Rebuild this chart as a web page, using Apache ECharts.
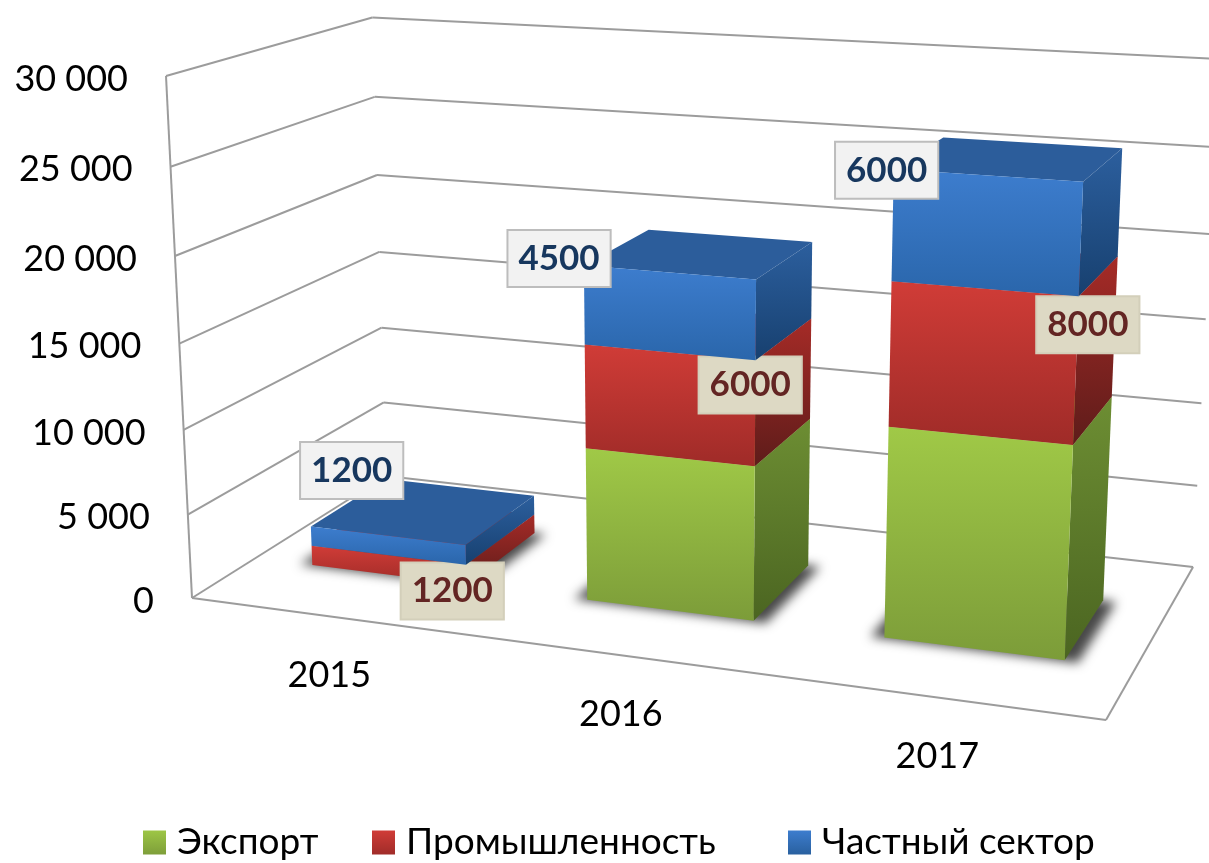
<!DOCTYPE html>
<html>
<head>
<meta charset="utf-8">
<title>chart</title>
<style>
html,body{margin:0;padding:0;background:#fff;}
#main{width:1209px;height:863px;}
</style>
<script src="https://cdn.jsdelivr.net/npm/echarts@6/dist/echarts.min.js"></script>
</head>
<body>
<div id="main"></div>
<script>
// data
var years = ['2015', '2016', '2017'];
var exportValues = [0, 9000, 12000];
var industryValues = [1200, 6000, 8000];
var privateValues = [1200, 4500, 6000];
var yTicks = [0, 5000, 10000, 15000, 20000, 25000, 30000];
var yTickLabels = ['0', '5 000', '10 000', '15 000', '20 000', '25 000', '30 000'];
var seriesNames = ['Экспорт', 'Промышленность', 'Частный сектор'];

// the picture's perspective: where the box corners land and how fast it shrinks
var O = [192, 598], U = [1106, 720], V = [166, 76], D = [386, 476];
var wu = -0.116, wv = -0.05, wd = 0.145;
var barBand = 0.57, depthFront = 0.3, depthBack = 0.7;

var FONT = 'Lato, "Open Sans", sans-serif';
var LINE = '#9c9c9c';

function project(u, v, d) {
    var den = 1 + wu * u + wv * v + wd * d;
    var res = [];
    for (var k = 0; k < 2; k++) {
        res[k] = (O[k] + u * ((1 + wu) * U[k] - O[k]) + v * ((1 + wv) * V[k] - O[k]) + d * ((1 + wd) * D[k] - O[k])) / den;
    }
    return res;
}
// value scale -> fraction of the grid
function toUV(params, api, cat, val) {
    var p = api.coord([cat, val]);
    var cs = params.coordSys;
    return [(p[0] - cs.x) / cs.width, (cs.y + cs.height - p[1]) / cs.height];
}
function grad(c1, c2) {
    return {type: 'linear', x: 0, y: 0, x2: 0, y2: 1, colorStops: [{offset: 0, color: c1}, {offset: 1, color: c2}]};
}
function poly(points, fill) {
    return {type: 'polygon', shape: {points: points}, style: {fill: fill}, silent: true};
}
function line(a, b) {
    return {type: 'line', shape: {x1: a[0], y1: a[1], x2: b[0], y2: b[1]}, style: {stroke: LINE, lineWidth: 2, fill: null}, silent: true};
}

var faceColors = [
    {front: ['#a0c947', '#7c9c39'], side: ['#6d8e33', '#4b6521'], top: '#8fb53e', legend: ['#9dc645', '#7e9e3a']},
    {front: ['#d03c37', '#9f2b28'], side: ['#a62b27', '#5e1c1a'], top: '#a62e2a', legend: ['#d03c37', '#a02c29']},
    {front: ['#3d7dce', '#2a66ab'], side: ['#2c5f9e', '#17406f'], top: '#2c5d9b', legend: ['#3d7dce', '#29609f']}
];
var labelStyles = [
    null,
    {fill: '#632523', bg: '#ddd9c4', border: '#d3cfba'},
    {fill: '#17375e', bg: '#f2f2f2', border: '#bdbdbd'}
];
// labels were dragged by hand in the original, offset from middle of the front face
var labelOffsets = [
    null,
    [[64, 26], [81, -20], [106, -38]],
    [[-36, -75], [-110, -54], [-99, -62]]
];
// the legend gaps in the original are not even, so one legend per series
var legendLeft = [143, 372, 788];

function stackData(values, lower) {
    return values.map(function (v, i) {
        return [i, lower[i], lower[i] + v, v];
    });
}
var base0 = [0, 0, 0];
var base1 = exportValues.slice();
var base2 = exportValues.map(function (v, i) { return v + industryValues[i]; });

function barRender(seriesIndex) {
    return function (params, api) {
        var cat = api.value(0), lo = api.value(1), hi = api.value(2), val = api.value(3);
        if (!val) return null;
        var a = toUV(params, api, cat, lo);
        var b = toUV(params, api, cat, hi);
        var halfW = api.size([1, 0])[0] * barBand / 2 / params.coordSys.width;
        var u0 = a[0] - halfW, u1 = a[0] + halfW;
        var col = faceColors[seriesIndex];
        var children = [
            poly([project(u0, b[1], depthBack), project(u1, b[1], depthBack), project(u1, b[1], depthFront), project(u0, b[1], depthFront)], col.top),
            poly([project(u1, b[1], depthFront), project(u1, b[1], depthBack), project(u1, a[1], depthBack), project(u1, a[1], depthFront)], grad(col.side[0], col.side[1])),
            poly([project(u0, b[1], depthFront), project(u1, b[1], depthFront), project(u1, a[1], depthFront), project(u0, a[1], depthFront)], grad(col.front[0], col.front[1]))
        ];
        var ls = labelStyles[seriesIndex];
        if (ls) {
            var m = project(a[0], (a[1] + b[1]) / 2, depthFront);
            var off = labelOffsets[seriesIndex][cat];
            children.push({
                type: 'text',
                z2: 100,
                silent: true,
                style: {
                    x: m[0] + off[0],
                    y: m[1] + off[1],
                    text: String(val),
                    font: 'bold 35px ' + FONT,
                    fill: ls.fill,
                    align: 'center',
                    verticalAlign: 'middle',
                    backgroundColor: ls.bg,
                    borderColor: ls.border,
                    borderWidth: 2,
                    padding: [10, 10, 10, 10]
                }
            });
        }
        return {type: 'group', children: children};
    };
}

// soft shadow on the floor. polygon sits off canvas, only its shadow lands here
var SHADOW_SHIFT = 3000;
function shadowRender(params, api) {
    var cat = api.value(0);
    if (!api.value(1)) return null;
    var a = toUV(params, api, cat, 0);
    var halfW = api.size([1, 0])[0] * barBand / 2 / params.coordSys.width + 0.014;
    var pts = [
        project(a[0] - halfW, 0, depthFront - 0.006),
        project(a[0] + halfW, 0, depthFront - 0.006),
        project(a[0] + halfW, 0, depthBack),
        project(a[0] - halfW, 0, depthBack)
    ].map(function (p) { return [p[0] - SHADOW_SHIFT, p[1]]; });
    return {
        type: 'polygon',
        silent: true,
        shape: {points: pts},
        style: {fill: '#000', shadowBlur: 11, shadowOffsetX: SHADOW_SHIFT, shadowColor: 'rgba(0,0,0,0.72)'}
    };
}

// walls and floor
function frameRender(params, api) {
    var t = toUV(params, api, 0, api.value(0));
    var v = t[1];
    var children = [
        line(project(0, v, 0), project(0, v, 1)),
        line(project(0, v, 1), project(1, v, 1))
    ];
    if (api.value(0) === 0) {
        children.push(line(project(0, 0, 0), project(1, 0, 0)));
        children.push(line(project(1, 0, 0), project(1, 0, 1)));
        children.push(line(project(0, 0, 0), project(0, 1, 0)));
    }
    var p = project(0, v, 0);
    children.push({
        type: 'text',
        silent: true,
        style: {
            x: p[0] - 38,
            y: p[1] + 3,
            text: yTickLabels[params.dataIndex],
            font: '36px ' + FONT,
            fill: '#000',
            align: 'right',
            verticalAlign: 'middle'
        }
    });
    return {type: 'group', children: children};
}

function yearRender(params, api) {
    var cat = api.value(0);
    var a = toUV(params, api, cat, 0);
    var p = project(a[0], 0, 0);
    return {
        type: 'text',
        silent: true,
        style: {
            x: p[0],
            y: p[1] + 59,
            text: years[cat],
            font: '36px ' + FONT,
            fill: '#000',
            align: 'center',
            verticalAlign: 'middle'
        }
    };
}

var myChart = echarts.init(document.getElementById('main'), null, {renderer: 'canvas'});

var option = {
    animation: false,
    backgroundColor: '#fff',
    grid: {left: 100, right: 100, top: 100, bottom: 100},
    xAxis: {type: 'category', data: years, show: false},
    yAxis: {type: 'value', min: 0, max: 30000, interval: 5000, show: false},
    legend: seriesNames.map(function (n, i) {
        return {
            left: legendLeft[i],
            top: 824,
            padding: 0,
            itemWidth: 23,
            itemHeight: 24,
            icon: 'rect',
            textStyle: {fontFamily: FONT, fontSize: 37, color: '#000', padding: [0, 0, 0, 6]},
            data: [{name: n, itemStyle: {color: grad(faceColors[i].legend[0], faceColors[i].legend[1])}}]
        };
    }),
    series: [
        {
            type: 'custom', name: 'frame', z: 1, silent: true,
            renderItem: frameRender,
            data: yTicks.map(function (t) { return [t]; }),
            encode: {y: 0}
        },
        {
            type: 'custom', name: 'years', z: 1, silent: true,
            renderItem: yearRender,
            data: years.map(function (y, i) { return [i]; }),
            encode: {x: 0}
        },
        {
            type: 'custom', name: 'shadow', z: 2, silent: true,
            renderItem: shadowRender,
            data: years.map(function (y, i) { return [i, exportValues[i] + industryValues[i] + privateValues[i]]; }),
            encode: {x: 0, y: 1}
        },
        {
            type: 'custom', name: seriesNames[0], z: 3, silent: true,
            itemStyle: {color: faceColors[0].legend[0]},
            renderItem: barRender(0),
            data: stackData(exportValues, base0),
            encode: {x: 0, y: [1, 2]}
        },
        {
            type: 'custom', name: seriesNames[1], z: 4, silent: true,
            itemStyle: {color: faceColors[1].legend[0]},
            renderItem: barRender(1),
            data: stackData(industryValues, base1),
            encode: {x: 0, y: [1, 2]}
        },
        {
            type: 'custom', name: seriesNames[2], z: 5, silent: true,
            itemStyle: {color: faceColors[2].legend[0]},
            renderItem: barRender(2),
            data: stackData(privateValues, base2),
            encode: {x: 0, y: [1, 2]}
        }
    ]
};
myChart.setOption(option);
window.onresize = myChart.resize;
</script>
</body>
</html>
